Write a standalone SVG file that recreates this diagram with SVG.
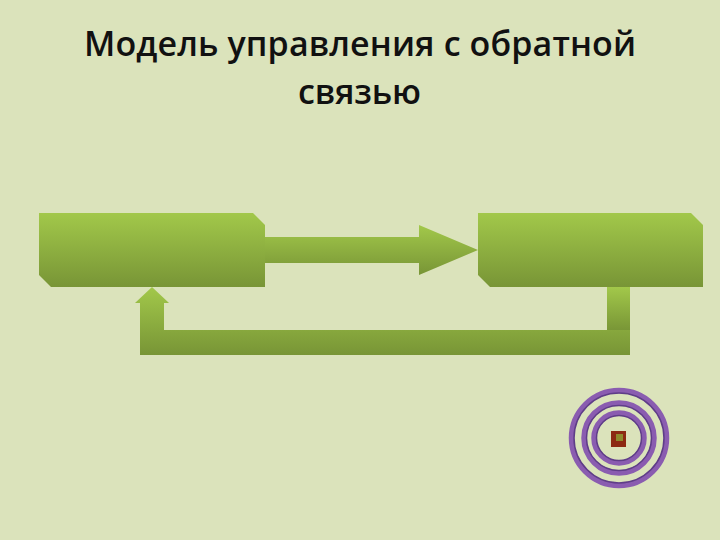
<svg xmlns="http://www.w3.org/2000/svg" width="720" height="540" viewBox="0 0 720 540">
  <defs>
    <linearGradient id="g" x1="0" y1="0" x2="0" y2="1">
      <stop offset="0" stop-color="#a2c84a"/>
      <stop offset="1" stop-color="#789536"/>
    </linearGradient>
    <style>
      .title { font-family: "Open Sans", "Noto Sans", sans-serif; font-size: 34px; font-weight: 600; fill: #111111; text-anchor: middle; }
      .shape { fill: url(#g); }
      .ring { fill: none; stroke: #8a5cb0; stroke-width: 5.5; }
      .ringShade { fill: none; stroke: #5f3d88; stroke-width: 1.5; }
    </style>
  </defs>
  <rect width="720" height="540" fill="#dbe3bb"/>
  <g id="title">
    <text class="title" x="360" y="56" textLength="552" lengthAdjust="spacing">Модель управления с обратной</text>
    <text class="title" x="359.500" y="104" textLength="123" lengthAdjust="spacing">связью</text>
  </g>
  <g id="connectors">
    <path class="shape" d="M265 237H419V225L478 250L419 275V263H265Z"/>
    <rect class="shape" x="607" y="287" width="23" height="44"/>
    <path class="shape" d="M140 355V303H135L152 287L169 303H164V330H630V355Z"/>
  </g>
  <g id="node-left">
    <path class="shape" d="M39 213H253L265 225V287H51L39 275Z"/>
  </g>
  <g id="node-right">
    <path class="shape" d="M478 213H691L703 225V287H490L478 275Z"/>
  </g>
  <g id="target">
    <circle class="ring" cx="619" cy="438" r="47.5"/>
    <circle class="ring" cx="619" cy="438" r="35"/>
    <circle class="ring" cx="619" cy="438" r="25"/>
    <circle class="ringShade" cx="619" cy="438" r="45"/>
    <circle class="ringShade" cx="619" cy="438" r="32.5"/>
    <circle class="ringShade" cx="619" cy="438" r="22.5"/>
    <rect x="611" y="431" width="15" height="16" fill="#8c2a12"/>
    <rect x="616" y="434" width="7" height="7" fill="#8e8a2c"/>
  </g>
</svg>
